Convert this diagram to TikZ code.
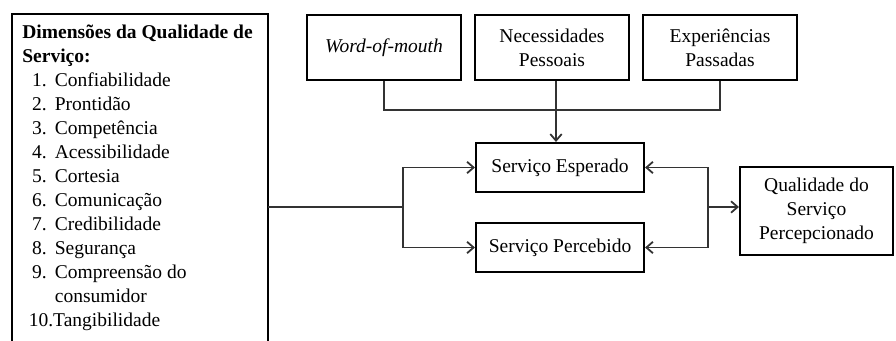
\documentclass[tikz,border=0pt]{standalone}
\usepackage{fontspec}
\setmainfont{Liberation Serif}
\usepackage{tikz}
\usetikzlibrary{arrows.meta}

\newcommand{\upx}{0.615pt}
\newcommand{\dimitem}[2]{\hspace*{6pt}\makebox[14pt][l]{#1}#2}

\tikzset{
  caixa/.style={draw, line width=1.3pt, align=center, inner sep=2pt},
  topbox/.style={caixa, minimum width=154*\upx, minimum height=65*\upx},
  midbox/.style={caixa, minimum width=168*\upx, minimum height=49*\upx},
  liga/.style={line width=0.7pt, black!80},
  seta/.style={liga, -{Straight Barb[length=4pt,width=7pt,line width=1.1pt]}}
}

\begin{document}
\begin{tikzpicture}[x=\upx, y=-\upx, font=\fontsize{12}{14.76}\selectfont]
\useasboundingbox (0,0) rectangle (896,341);
\clip (0,0) rectangle (896,341);

% caixa das dimensoes (cortada em baixo)
\draw [line width=1.3pt] (12,360) |- (268,14) -- (268,360);
\coordinate (dimsE) at (268,207);
\node [anchor=north west, align=left, inner sep=0pt] (lista) at (22,25) {%
  \textbf{Dimensões da Qualidade de}\\
  \textbf{Serviço:}\\
  \dimitem{1.}{Confiabilidade}\\
  \dimitem{2.}{Prontidão}\\
  \dimitem{3.}{Competência}\\
  \dimitem{4.}{Acessibilidade}\\
  \dimitem{5.}{Cortesia}\\
  \dimitem{6.}{Comunicação}\\
  \dimitem{7.}{Credibilidade}\\
  \dimitem{8.}{Segurança}\\
  \dimitem{9.}{Compreensão do}\\
  \hspace*{20pt}consumidor\\
  \hspace*{4pt}\makebox[15pt][l]{10.}Tangibilidade};

% fatores de cima
\node [topbox] (wom) at (384,47.5) {\textit{Word-of-mouth}};
\node [topbox] (nec) at (552,47.5) {Necessidades\\Pessoais};
\node [topbox] (exp) at (720,47.5) {Experiências\\Passadas};

% servico esperado / percebido
\node [midbox] (esp) at (560,167.5) {Serviço Esperado};
\node [midbox] (perc) at (560,247.5) {Serviço Percebido};

\node [caixa, minimum width=153*\upx, minimum height=88*\upx] (qual) at (816.5,211)
  {Qualidade do\\Serviço\\Percepcionado};

\coordinate (topo) at (556,110);
\coordinate (div) at (403,207);
\coordinate (junta) at (708,207);

\draw [liga] (wom.south) |- (topo) -| (exp.south);
\draw [liga] (nec.south -| topo) -- (topo);
\draw [seta] (topo) -- (topo |- esp.north);

\draw [liga] (dimsE) -- (div);
\draw [seta] (div) |- (esp.west);
\draw [seta] (div) |- (perc.west);

\draw [seta] (junta) |- (esp.east);
\draw [seta] (junta) |- (perc.east);
\draw [seta] (junta) -- (junta -| qual.west);

\end{tikzpicture}
\end{document}
